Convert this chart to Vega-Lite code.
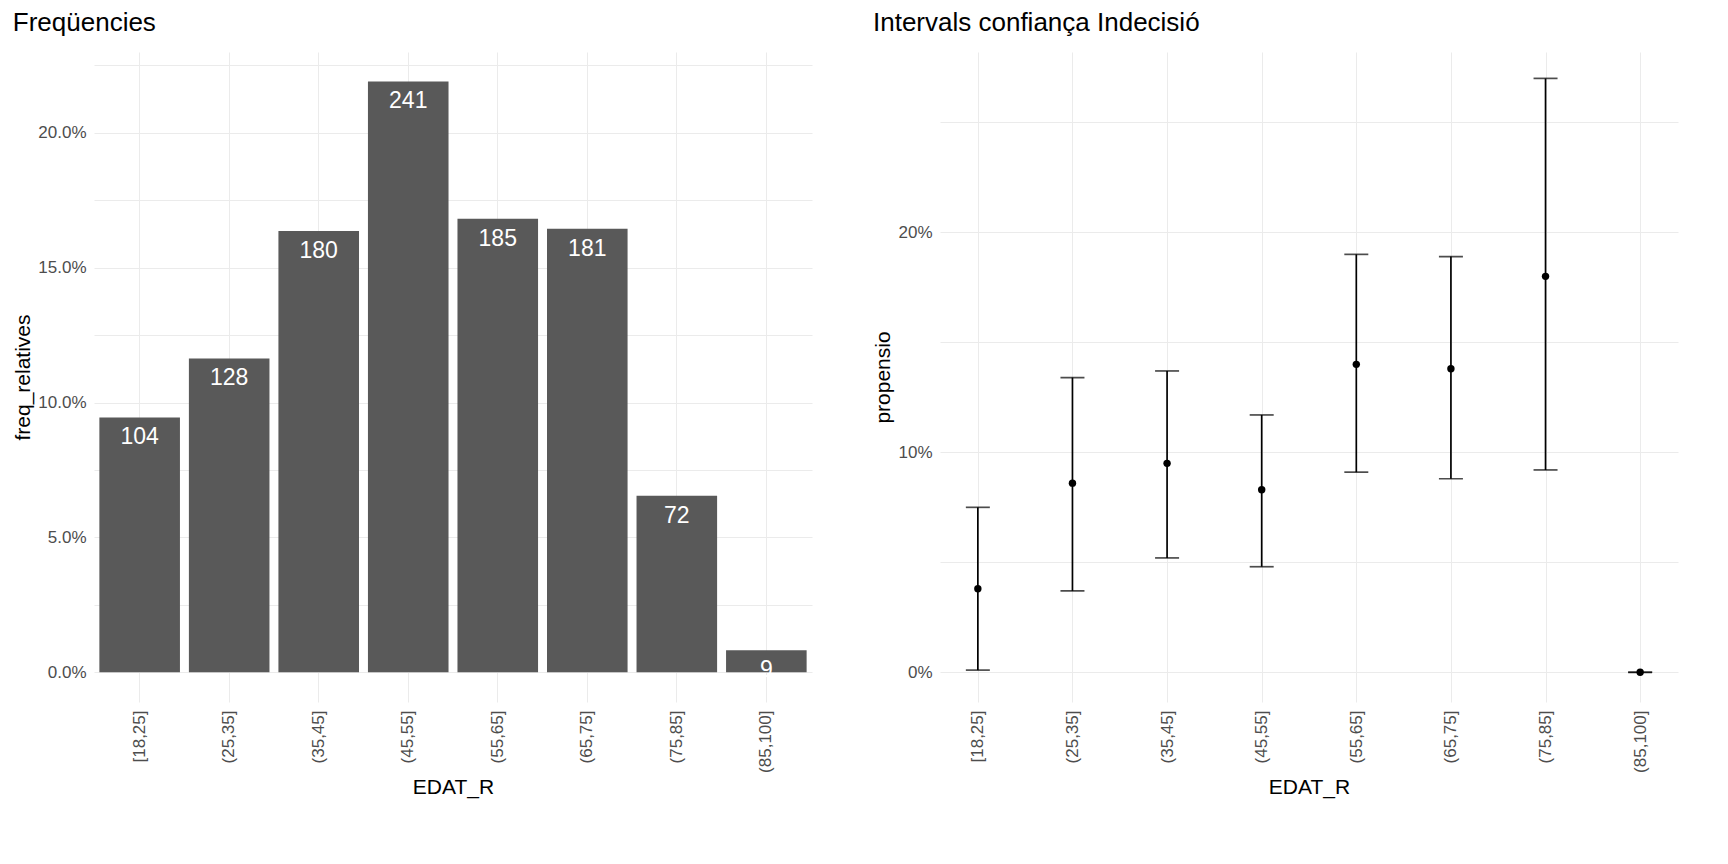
{
  "$schema": "https://vega.github.io/schema/vega-lite/v6.json",
  "background": "white",
  "padding": {"left": 12, "top": 10, "right": 10, "bottom": 5},
  "datasets": {
    "freq": [
      {"EDAT_R": "[18,25]", "n": 104, "freq_relatives": 0.0945},
      {"EDAT_R": "(25,35]", "n": 128, "freq_relatives": 0.1164},
      {"EDAT_R": "(35,45]", "n": 180, "freq_relatives": 0.1636},
      {"EDAT_R": "(45,55]", "n": 241, "freq_relatives": 0.2191},
      {"EDAT_R": "(55,65]", "n": 185, "freq_relatives": 0.1682},
      {"EDAT_R": "(65,75]", "n": 181, "freq_relatives": 0.1645},
      {"EDAT_R": "(75,85]", "n": 72, "freq_relatives": 0.0655},
      {"EDAT_R": "(85,100]", "n": 9, "freq_relatives": 0.0082}
    ],
    "ci": [
      {"EDAT_R": "[18,25]", "propensio": 0.038, "lo": 0.001, "hi": 0.075},
      {"EDAT_R": "(25,35]", "propensio": 0.086, "lo": 0.037, "hi": 0.134},
      {"EDAT_R": "(35,45]", "propensio": 0.095, "lo": 0.052, "hi": 0.137},
      {"EDAT_R": "(45,55]", "propensio": 0.083, "lo": 0.048, "hi": 0.117},
      {"EDAT_R": "(55,65]", "propensio": 0.140, "lo": 0.091, "hi": 0.190},
      {"EDAT_R": "(65,75]", "propensio": 0.138, "lo": 0.088, "hi": 0.189},
      {"EDAT_R": "(75,85]", "propensio": 0.180, "lo": 0.092, "hi": 0.270},
      {"EDAT_R": "(85,100]", "propensio": 0.0, "lo": 0.0, "hi": 0.0}
    ]
  },
  "hconcat": [
    {
      "width": 718,
      "height": 650,
      "title": "Freqüencies",
      "data": {"name": "freq"},
      "encoding": {
        "x": {"field": "EDAT_R", "type": "nominal", "sort": null, "title": "EDAT_R",
              "scale": {"paddingInner": 0.1, "paddingOuter": 0.06},
              "axis": {"labelAngle": -90, "labelAlign": "right", "labelBaseline": "middle"}},
        "y": {"field": "freq_relatives", "type": "quantitative", "title": "freq_relatives",
              "scale": {"domain": [-0.011, 0.23], "nice": false, "zero": false},
              "axis": {"values": [0, 0.025, 0.05, 0.075, 0.1, 0.125, 0.15, 0.175, 0.2, 0.225],
                       "labelExpr": "(round(datum.value*1000) % 50 == 0) ? format(datum.value, '.1%') : ''"}}
      },
      "layer": [
        {"mark": {"type": "bar", "color": "#595959"}},
        {"mark": {"type": "text", "color": "white", "fontSize": 23, "baseline": "top", "dy": 9},
         "encoding": {"text": {"field": "n", "type": "quantitative"}}}
      ]
    },
    {
      "width": 738,
      "height": 650,
      "title": "Intervals confiança Indecisió",
      "data": {"name": "ci"},
      "encoding": {
        "x": {"field": "EDAT_R", "type": "nominal", "sort": null, "title": "EDAT_R",
              "scale": {"type": "point", "padding": 0.4},
              "axis": {"labelAngle": -90, "labelAlign": "right", "labelBaseline": "middle"}}
      },
      "layer": [
        {"mark": {"type": "rule", "color": "black", "strokeWidth": 1.7},
         "encoding": {
           "y": {"field": "lo", "type": "quantitative", "title": "propensio",
                 "scale": {"domain": [-0.0135, 0.282], "nice": false, "zero": false},
                 "axis": {"values": [0, 0.05, 0.1, 0.15, 0.2, 0.25],
                          "labelExpr": "(round(datum.value*100) % 10 == 0) ? format(datum.value, '.0%') : ''"}},
           "y2": {"field": "hi"}}},
        {"mark": {"type": "tick", "orient": "horizontal", "color": "black", "size": 24, "thickness": 1.7},
         "encoding": {"y": {"field": "lo", "type": "quantitative"}}},
        {"mark": {"type": "tick", "orient": "horizontal", "color": "black", "size": 24, "thickness": 1.7},
         "encoding": {"y": {"field": "hi", "type": "quantitative"}}},
        {"mark": {"type": "circle", "color": "black", "size": 55, "opacity": 1},
         "encoding": {"y": {"field": "propensio", "type": "quantitative"}}}
      ]
    }
  ],
  "spacing": 60,
  "config": {
    "font": "Liberation Sans",
    "view": {"stroke": null},
    "title": {"fontSize": 26, "fontWeight": "normal", "anchor": "start", "color": "black", "offset": 16},
    "axis": {"domain": false, "ticks": false, "gridColor": "#ebebeb", "grid": true,
             "labelFontSize": 17, "labelColor": "#4d4d4d", "titleFontSize": 21,
             "titleFontWeight": "normal", "titleColor": "black", "labelPadding": 8}
  }
}
